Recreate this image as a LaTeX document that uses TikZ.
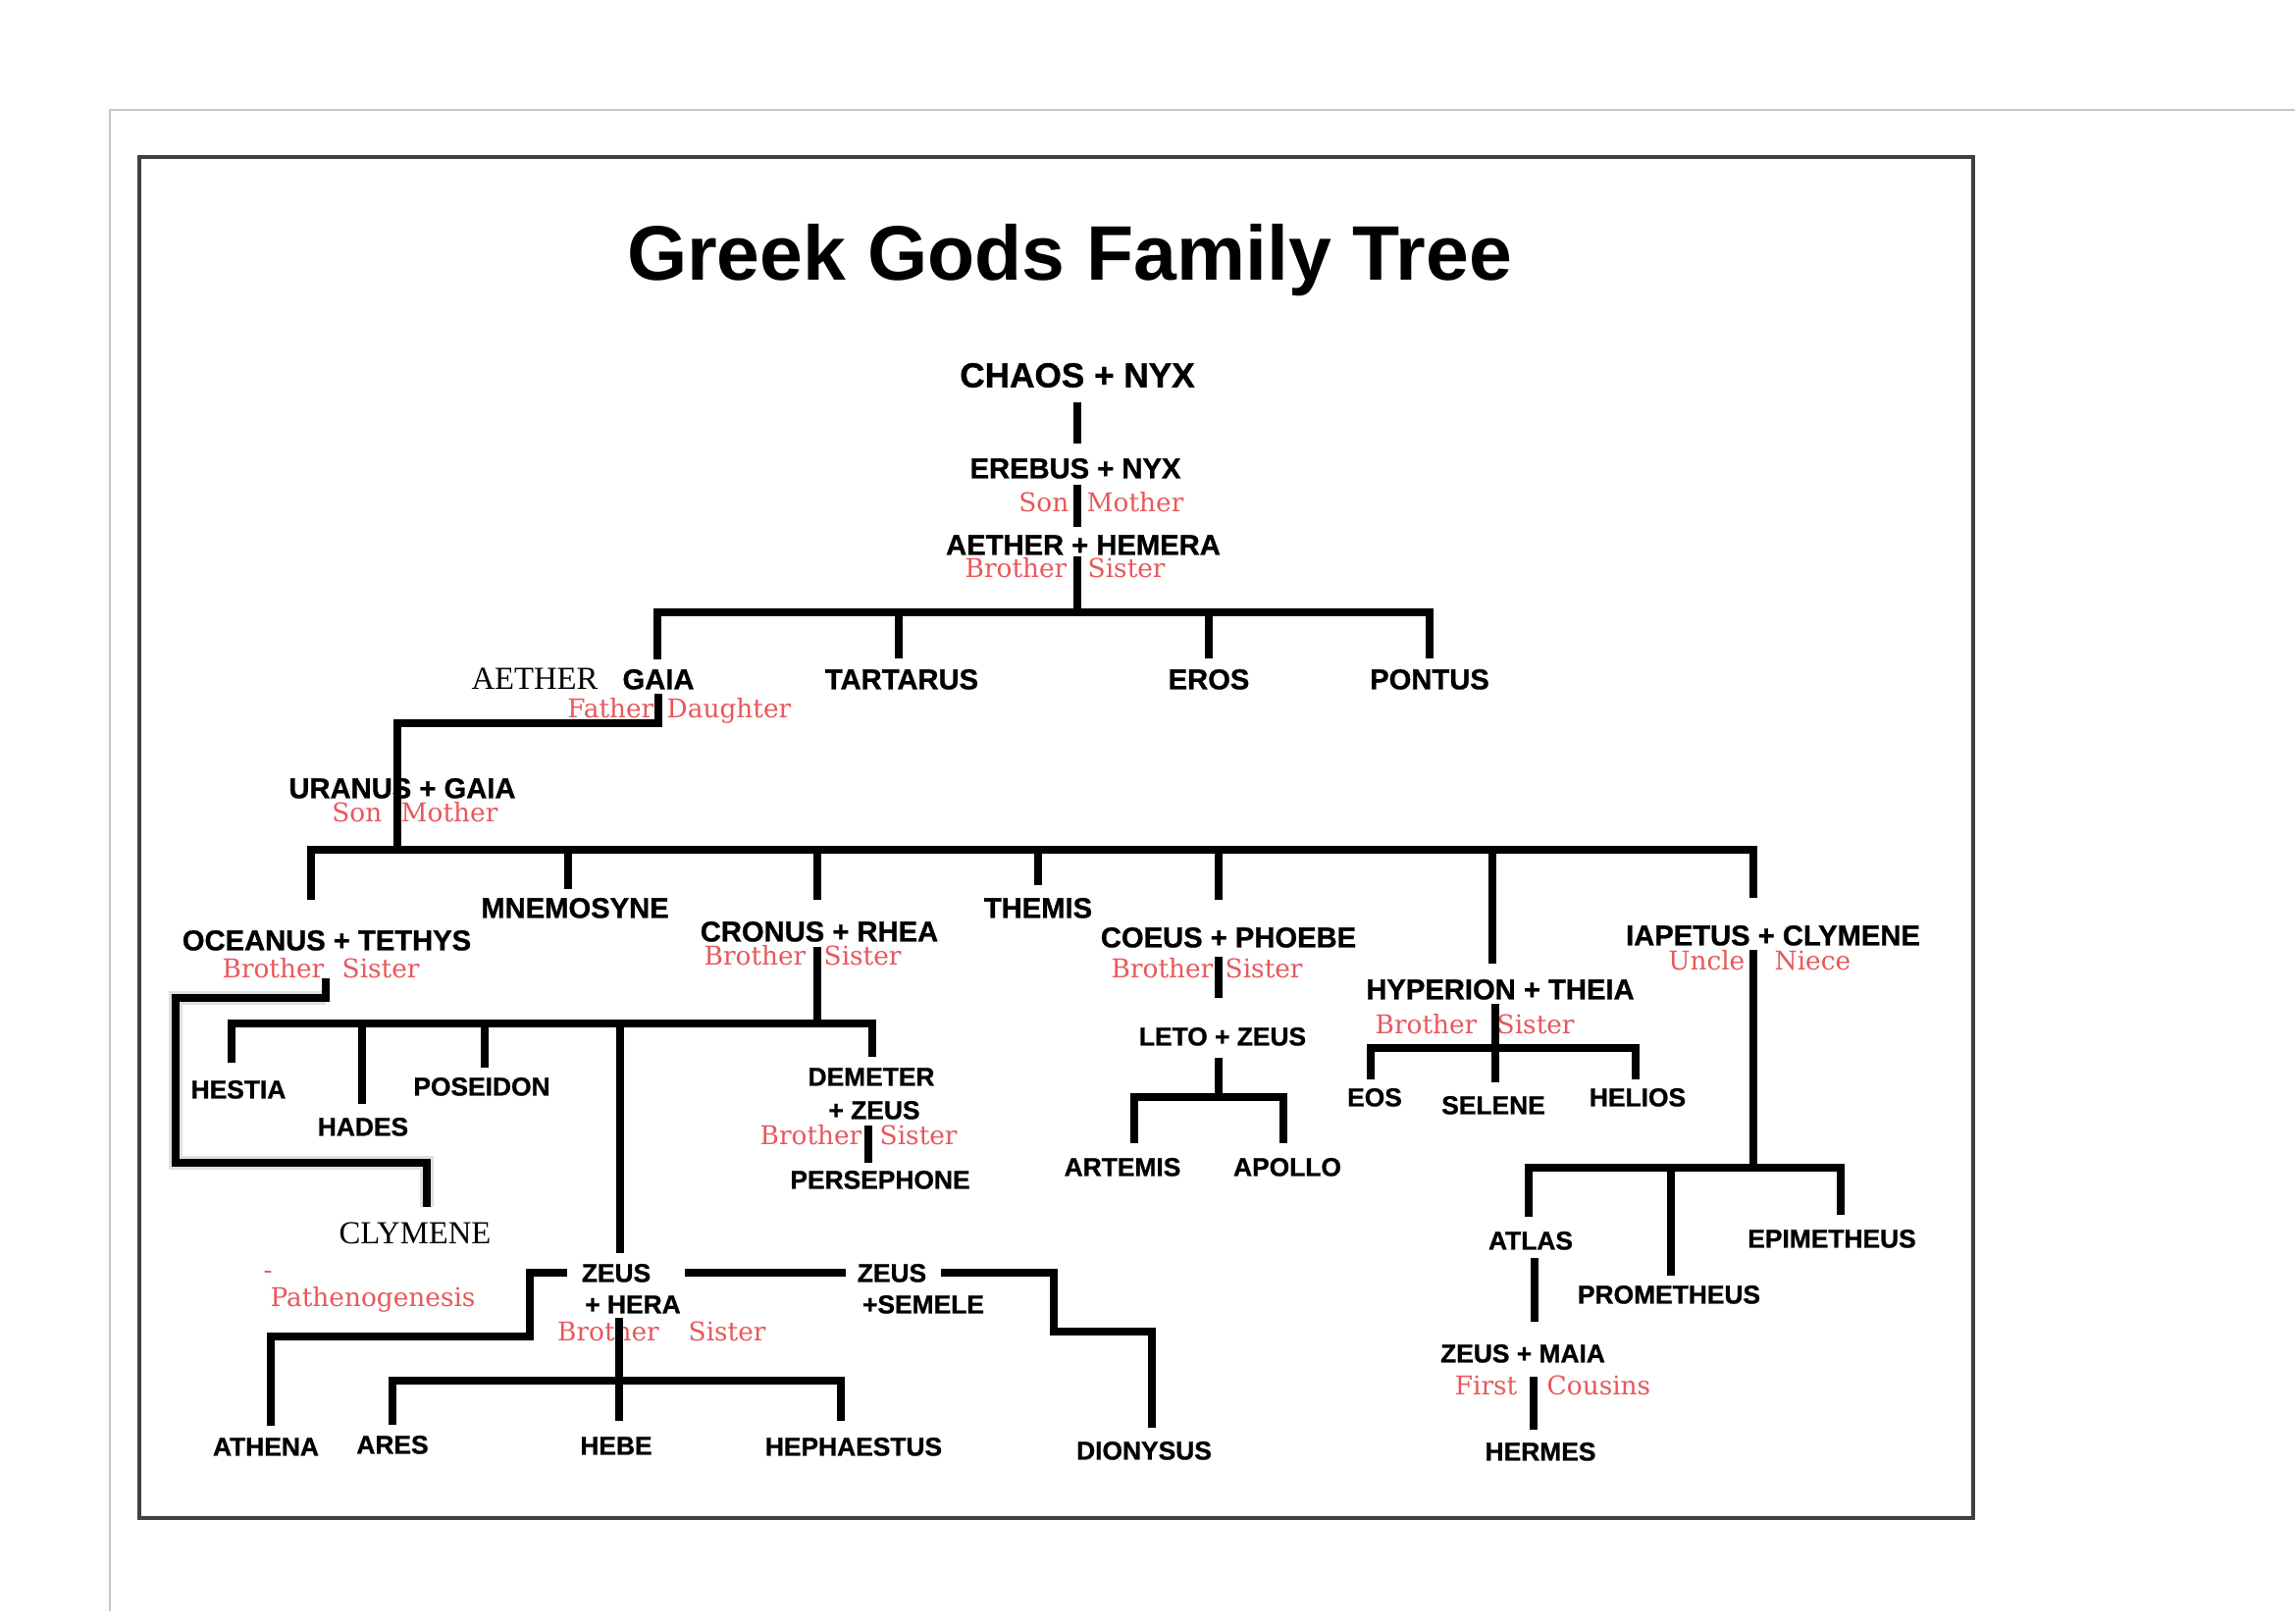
\documentclass[tikz,border=0pt]{standalone}
\usepackage{fontspec}
\setmainfont{Liberation Sans}
\newfontfamily\lblfont{Liberation Sans}[BoldFeatures={FakeBold=0.9}]
\newfontfamily\relfont{DejaVu Serif}
\newfontfamily\blkserif{Liberation Serif}
\definecolor{relred}{RGB}{232,88,92}
\begin{document}
\begin{tikzpicture}[x=0.01cm,y=-0.01cm,
  ttl/.style={font=\bfseries\fontsize{22.4}{26}\selectfont, inner sep=0pt, text height=16pt, text depth=0pt},
  big/.style={font=\lblfont\bfseries\fontsize{10}{12}\selectfont, inner sep=0pt, text height=7.16pt, text depth=0pt},
  lbl/.style={font=\lblfont\bfseries\fontsize{8.3}{10}\selectfont, inner sep=0pt, text height=5.94pt, text depth=0pt},
  lbls/.style={font=\lblfont\bfseries\fontsize{7.5}{9}\selectfont, inner sep=0pt, text height=5.37pt, text depth=0pt},
  rel/.style={font=\relfont\fontsize{7.5}{9}\selectfont, text=relred, inner sep=0pt, text height=5.47pt, text depth=0pt},
  ser/.style={font=\blkserif\fontsize{9.3}{11}\selectfont, inner sep=0pt, text height=6.16pt, text depth=0pt},
  ln/.style={line width=2.4pt, line cap=butt, line join=miter},
  shadowln/.style={line width=4pt, gray!25, line join=miter}
]
\useasboundingbox (0,0) rectangle (2339,1654);
\fill[white] (0,0) rectangle (2339,1654);
% frames
\draw[gray!45, line width=0.5pt] (112,1642) -- (112,112) -- (2339,112);
\draw[black!75, line width=0.9pt] (142,160) rectangle (2011,1547);

% title
\node[ttl] (title) at (1090,257) {Greek Gods Family Tree};

% ---------- nodes ----------
\node[big] (chaos) at (1098,382) {CHAOS + NYX};
\node[lbl] (erebus) at (1096,477) {EREBUS + NYX};
\node[rel,anchor=east] (son1) at (1090,512) {Son};
\node[rel,anchor=west] (mother1) at (1107,512) {Mother};
\node[lbl] (aether1) at (1104,555) {AETHER + HEMERA};
\node[rel,anchor=east] (brother1) at (1088,579) {Brother};
\node[rel,anchor=west] (sister1) at (1108,579) {Sister};

\node[ser] (aether2) at (545,692) {AETHER};
\node[lbl] (gaia) at (671,692) {GAIA};
\node[rel,anchor=east] (father) at (667,722) {Father};
\node[rel,anchor=west] (daughter) at (679,722) {Daughter};
\node[lbl] (tartarus) at (919,692) {TARTARUS};
\node[lbl] (eros) at (1232,692) {EROS};
\node[lbl] (pontus) at (1457,692) {PONTUS};

\node[lbl] (uranus) at (410,803) {URANUS + GAIA};
\node[rel,anchor=east] (son2) at (390,828) {Son};
\node[rel,anchor=west] (mother2) at (408,828) {Mother};

\node[lbl] (oceanus) at (333,958) {OCEANUS + TETHYS};
\node[rel,anchor=east] (brother2) at (331,987) {Brother};
\node[rel,anchor=west] (sister2) at (348,987) {Sister};
\node[lbl] (mnemosyne) at (586,925) {MNEMOSYNE};
\node[lbl] (cronus) at (835,949) {CRONUS + RHEA};
\node[rel,anchor=east] (brother3) at (822,974) {Brother};
\node[rel,anchor=west] (sister3) at (839,974) {Sister};
\node[lbl] (themis) at (1058,925) {THEMIS};
\node[lbl] (coeus) at (1252,955) {COEUS + PHOEBE};
\node[rel,anchor=east] (brother4) at (1237,987) {Brother};
\node[rel,anchor=west] (sister4) at (1248,987) {Sister};
\node[lbls] (leto) at (1246,1056) {LETO + ZEUS};
\node[lbls] (artemis) at (1144,1189) {ARTEMIS};
\node[lbls] (apollo) at (1312,1189) {APOLLO};
\node[lbl] (hyperion) at (1529,1008) {HYPERION + THEIA};
\node[rel,anchor=east] (brother5) at (1506,1044) {Brother};
\node[rel,anchor=west] (sister5) at (1525,1044) {Sister};
\node[lbls] (eos) at (1401,1118) {EOS};
\node[lbls] (selene) at (1522,1126) {SELENE};
\node[lbls] (helios) at (1669,1118) {HELIOS};
\node[lbl] (iapetus) at (1807,953) {IAPETUS + CLYMENE};
\node[rel,anchor=east] (uncle) at (1779,979) {Uncle};
\node[rel,anchor=west] (niece) at (1808,979) {Niece};
\node[lbls] (atlas) at (1560,1264) {ATLAS};
\node[lbls] (prometheus) at (1701,1319) {PROMETHEUS};
\node[lbls] (epimetheus) at (1867,1262) {EPIMETHEUS};
\node[lbls] (zmaia) at (1552,1379) {ZEUS + MAIA};
\node[rel,anchor=east] (first) at (1547,1412) {First};
\node[rel,anchor=west] (cousins) at (1576,1412) {Cousins};
\node[lbls] (hermes) at (1570,1479) {HERMES};

\node[lbls] (hestia) at (243,1110) {HESTIA};
\node[lbls] (hades) at (370,1148) {HADES};
\node[lbls] (poseidon) at (491,1107) {POSEIDON};
\node[lbls] (demeter) at (888,1097) {DEMETER};
\node[lbls] (dzeus) at (891,1131) {+ ZEUS};
\node[rel,anchor=east] (brother6) at (879,1157) {Brother};
\node[rel,anchor=west] (sister6) at (896,1157) {Sister};
\node[lbls] (persephone) at (897,1202) {PERSEPHONE};

\node[ser] (clymene) at (423,1257) {CLYMENE};
\node[rel] (dash) at (273,1294) {-};
\node[rel] (pathen) at (380,1322) {Pathenogenesis};
\node[lbls] (zeush) at (628,1297) {ZEUS};
\node[lbls] (hera) at (645,1329) {+ HERA};
\node[rel] (brother7) at (620,1357) {Brother};
\node[rel,anchor=west] (sister7) at (701,1357) {Sister};
\node[lbls] (zeuss) at (909,1297) {ZEUS};
\node[lbls] (semele) at (941,1329) {+SEMELE};

\node[lbls] (athena) at (271,1474) {ATHENA};
\node[lbls] (ares) at (400,1472) {ARES};
\node[lbls] (hebe) at (628,1473) {HEBE};
\node[lbls] (hephaestus) at (870,1474) {HEPHAESTUS};
\node[lbls] (dionysus) at (1166,1478) {DIONYSUS};

% ---------- junction coordinates ----------
\coordinate (t1) at (1098,410); \coordinate (t2) at (1098,452);
\coordinate (t3) at (1098,494); \coordinate (t4) at (1098,537);
\coordinate (t5) at (1098,567); \coordinate (t6) at (1098,624);
\coordinate (b1l) at (670,624); \coordinate (b1r) at (1457,624);
\coordinate (dgaia) at (670,672); \coordinate (dtart) at (916,671);
\coordinate (deros) at (1232,671); \coordinate (dpont) at (1457,671);
\coordinate (g1) at (671,707); \coordinate (g2) at (671,737);
\coordinate (g3) at (405,737); \coordinate (g4) at (405,866);
\coordinate (b2l) at (317,866); \coordinate (b2r) at (1787,866);
\coordinate (docean) at (317,917); \coordinate (dmnem) at (579,906);
\coordinate (dcron) at (833,917); \coordinate (dthem) at (1058,902);
\coordinate (dcoeus) at (1242,917); \coordinate (dhyp) at (1521,982);
\coordinate (diap) at (1787,915);
% oceanus
\coordinate (o1) at (332,997); \coordinate (o2) at (332,1017);
\coordinate (o3) at (179,1017); \coordinate (o4) at (179,1185);
\coordinate (o5) at (435,1185); \coordinate (o6) at (435,1230);
% cronus
\coordinate (cr1) at (833,965); \coordinate (cr2) at (833,1043);
\coordinate (b3l) at (236,1043); \coordinate (b3r) at (889,1043);
\coordinate (dhest) at (236,1083); \coordinate (dhades) at (369,1125);
\coordinate (dpos) at (494,1088); \coordinate (dzeush) at (632,1277);
\coordinate (ddem) at (889,1077);
\coordinate (dm1) at (885,1147); \coordinate (dm2) at (885,1185);
% coeus / leto
\coordinate (co1) at (1242,975); \coordinate (co2) at (1242,1017);
\coordinate (le1) at (1242,1078); \coordinate (le2) at (1242,1118);
\coordinate (b4l) at (1156,1118); \coordinate (b4r) at (1308,1118);
\coordinate (dart) at (1156,1165); \coordinate (dapo) at (1308,1165);
% hyperion
\coordinate (hy1) at (1524,1023); \coordinate (hy2) at (1524,1103);
\coordinate (b5l) at (1397,1068); \coordinate (b5r) at (1667,1068);
\coordinate (deos) at (1397,1100); \coordinate (dhel) at (1667,1100);
% iapetus
\coordinate (ia1) at (1787,968); \coordinate (ia2) at (1787,1190);
\coordinate (b6l) at (1558,1190); \coordinate (b6r) at (1876,1190);
\coordinate (datl) at (1558,1240); \coordinate (dprom) at (1703,1300);
\coordinate (depi) at (1876,1238);
\coordinate (at1) at (1564,1282); \coordinate (at2) at (1564,1347);
\coordinate (ma1) at (1563,1403); \coordinate (ma2) at (1563,1457);
% zeus + hera
\coordinate (zl1) at (578,1297); \coordinate (zl2) at (540,1297);
\coordinate (zl3) at (540,1362); \coordinate (zl4) at (276,1362);
\coordinate (dath) at (276,1453);
\coordinate (zm1) at (698,1297); \coordinate (zm2) at (862,1297);
\coordinate (zr1) at (959,1297); \coordinate (zr2) at (1074,1297);
\coordinate (zr3) at (1074,1357); \coordinate (zr4) at (1174,1357);
\coordinate (ddio) at (1174,1455);
\coordinate (zh1) at (631,1343); \coordinate (zh2) at (631,1448);
\coordinate (b7l) at (400,1407); \coordinate (b7r) at (857,1407);
\coordinate (dares) at (400,1452); \coordinate (dheph) at (857,1448);

% ---------- connectors ----------
\draw[ln] (t1) -- (t2);
\draw[ln] (t3) -- (t4);
\draw[ln] (t5) -- (t6);
\draw[ln] (dgaia) -- (b1l) -- (b1r) -- (dpont);
\draw[ln] (b1l -| dtart) -- (dtart);
\draw[ln] (b1l -| deros) -- (deros);
\draw[ln] (g1) -- (g2) -- (g3) -- (g4);
\draw[ln] (docean) -- (b2l) -- (b2r) -- (diap);
\draw[ln] (b2l -| dmnem) -- (dmnem);
\draw[ln] (b2l -| dcron) -- (dcron);
\draw[ln] (b2l -| dthem) -- (dthem);
\draw[ln] (b2l -| dcoeus) -- (dcoeus);
\draw[ln] (b2l -| dhyp) -- (dhyp);
% oceanus with shadow
\draw[shadowln, shift={(4,7)}] (o2) -- (o3) -- (o4) -- (o5) -- (o6);
\draw[ln] (o1) -- (o2) -- (o3) -- (o4) -- (o5) -- (o6);
% cronus children
\draw[ln] (cr1) -- (cr2);
\draw[ln] (dhest) -- (b3l) -- (b3r) -- (ddem);
\draw[ln] (b3l -| dhades) -- (dhades);
\draw[ln] (b3l -| dpos) -- (dpos);
\draw[ln] (b3l -| dzeush) -- (dzeush);
\draw[ln] (dm1) -- (dm2);
% coeus
\draw[ln] (co1) -- (co2);
\draw[ln] (le1) -- (le2);
\draw[ln] (dart) -- (b4l) -- (b4r) -- (dapo);
% hyperion
\draw[ln] (hy1) -- (hy2);
\draw[ln] (deos) -- (b5l) -- (b5r) -- (dhel);
% iapetus
\draw[ln] (ia1) -- (ia2);
\draw[ln] (datl) -- (b6l) -- (b6r) -- (depi);
\draw[ln] (b6l -| dprom) -- (dprom);
\draw[ln] (at1) -- (at2);
\draw[ln] (ma1) -- (ma2);
% zeus + hera
\draw[ln] (zl1) -- (zl2) -- (zl3) -- (zl4) -- (dath);
\draw[ln] (zm1) -- (zm2);
\draw[ln] (zr1) -- (zr2) -- (zr3) -- (zr4) -- (ddio);
\draw[ln] (zh1) -- (zh2);
\draw[ln] (dares) -- (b7l) -- (b7r) -- (dheph);
\end{tikzpicture}
\end{document}
